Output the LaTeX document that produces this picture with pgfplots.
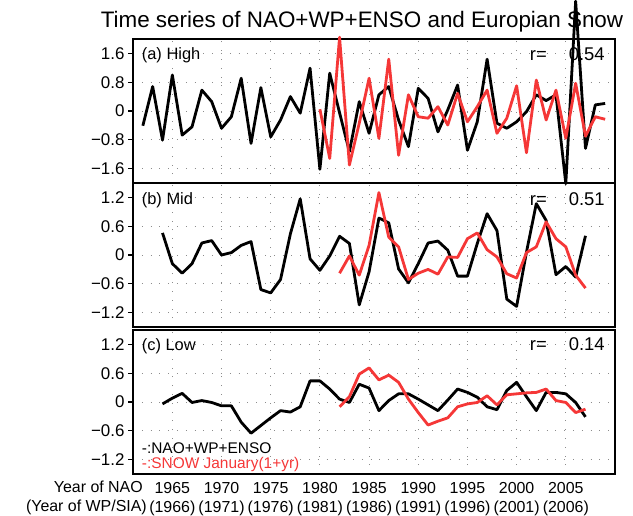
\documentclass[border=0pt]{standalone}
\usepackage{fontspec}
\setmainfont{Liberation Sans}
\usepackage{pgfplots}
\usepackage{pgfplotstable}
\pgfplotsset{compat=1.18}
\definecolor{snowred}{RGB}{245,55,55}

% High-frequency panel
\pgfplotstableread{
year val
1962 -0.41
1963 0.68
1964 -0.81
1965 1.00
1966 -0.67
1967 -0.44
1968 0.58
1969 0.26
1970 -0.48
1971 -0.16
1972 0.91
1973 -0.90
1974 0.65
1975 -0.72
1976 -0.25
1977 0.40
1978 -0.06
1979 1.19
1980 -1.62
1981 1.05
1982 -0.05
1983 -1.13
1984 0.26
1985 -0.62
1986 0.45
1987 0.68
1988 -0.25
1989 -0.99
1990 0.63
1991 0.35
1992 -0.58
1993 0.03
1994 0.72
1995 -1.09
1996 -0.30
1997 1.44
1998 -0.34
1999 -0.48
2000 -0.30
2001 -0.02
2002 0.45
2003 0.29
2004 0.45
2005 -2.02
2006 3.05
2007 -1.04
2008 0.17
2009 0.21
}\naoA
\pgfplotstableread{
year val
1980 0.05
1981 -1.32
1982 2.05
1983 -1.50
1984 -0.34
1985 0.91
1986 -0.76
1987 1.44
1988 -1.23
1989 0.45
1990 -0.16
1991 -0.20
1992 0.12
1993 -0.39
1994 0.49
1995 -0.30
1996 0.12
1997 0.58
1998 -0.62
1999 -0.20
2000 0.70
2001 -1.16
2002 0.86
2003 -0.25
2004 0.58
2005 -0.76
2006 0.77
2007 -0.70
2008 -0.16
2009 -0.23
}\snowA

% Mid-frequency panel
\pgfplotstableread{
year val
1964 0.46
1965 -0.18
1966 -0.38
1967 -0.18
1968 0.25
1969 0.30
1970 0.00
1971 0.05
1972 0.20
1973 0.28
1974 -0.72
1975 -0.79
1976 -0.51
1977 0.44
1978 1.17
1979 -0.08
1980 -0.32
1981 -0.02
1982 0.39
1983 0.24
1984 -1.04
1985 -0.35
1986 0.77
1987 0.67
1988 -0.29
1989 -0.58
1990 -0.18
1991 0.25
1992 0.29
1993 0.10
1994 -0.44
1995 -0.44
1996 0.24
1997 0.86
1998 0.51
1999 -0.92
2000 -1.07
2001 0.06
2002 1.07
2003 0.72
2004 -0.41
2005 -0.24
2006 -0.46
2007 0.40
}\naoB
\pgfplotstableread{
year val
1982 -0.38
1983 -0.02
1984 -0.42
1985 0.20
1986 1.30
1987 0.37
1988 0.17
1989 -0.51
1990 -0.38
1991 -0.30
1992 -0.40
1993 -0.04
1994 -0.05
1995 0.34
1996 0.46
1997 0.11
1998 -0.04
1999 -0.39
2000 -0.48
2001 0.05
2002 0.17
2003 0.69
2004 0.34
2005 0.17
2006 -0.42
2007 -0.69
}\snowB

% Low-frequency panel
\pgfplotstableread{
year val
1964 -0.04
1965 0.08
1966 0.18
1967 -0.01
1968 0.03
1969 -0.01
1970 -0.08
1971 -0.08
1972 -0.42
1973 -0.65
1974 -0.49
1975 -0.33
1976 -0.18
1977 -0.21
1978 -0.10
1979 0.44
1980 0.44
1981 0.27
1982 0.06
1983 -0.01
1984 0.37
1985 0.29
1986 -0.18
1987 0.03
1988 0.17
1989 0.17
1990 0.06
1991 -0.06
1992 -0.18
1993 0.04
1994 0.27
1995 0.20
1996 0.10
1997 -0.10
1998 -0.16
1999 0.24
2000 0.41
2001 0.11
2002 -0.18
2003 0.20
2004 0.20
2005 0.17
2006 -0.01
2007 -0.31
}\naoC
\pgfplotstableread{
year val
1982 -0.10
1983 0.11
1984 0.58
1985 0.71
1986 0.46
1987 0.56
1988 0.41
1989 0.06
1990 -0.22
1991 -0.48
1992 -0.40
1993 -0.33
1994 -0.10
1995 -0.04
1996 -0.01
1997 0.13
1998 -0.06
1999 0.15
2000 0.17
2001 0.19
2002 0.20
2003 0.27
2004 0.03
2005 -0.01
2006 -0.22
2007 -0.15
}\snowC

\pgfplotsset{
  panel/.style={
    width=482bp, height=144bp, scale only axis,
    xmin=1961, xmax=2010,
    xtick={1965,1970,...,2005},
    xtick style={draw=none},
    ytick pos=left,
    tick align=outside,
    major tick length=5bp,
    ytick style={line width=1.2bp, black},
    grid=major,
    grid style={dash pattern=on 0.8bp off 8bp, black!45, line width=0.8bp},
    axis line style={line width=1.8bp},
    tick label style={font=\fontsize{16}{19}\selectfont},
    yticklabel style={font=\fontsize{17}{20}\selectfont},
  },
  nao/.style={black, line width=2.8bp, line join=round},
  snow/.style={snowred, line width=2.8bp, line join=round},
}

\begin{document}
\begin{tikzpicture}
% (a) High
\begin{axis}[panel, at={(0,291bp)}, clip=false,
  ymin=-2, ymax=2,
  ytick={-1.6,-0.8,0,0.8,1.6},
  yticklabels={−1.6,−0.8,0,0.8,1.6},
  xticklabels={}]
\addplot[nao] table[x=year,y=val] {\naoA};
\addplot[snow] table[x=year,y=val] {\snowA};
\node[anchor=base west, inner sep=0, font=\fontsize{16.5}{19}\selectfont] at (rel axis cs:0.018,0.859) {(a) High};
\node[anchor=base east, inner sep=0, font=\fontsize{18.5}{22}\selectfont] at (rel axis cs:0.979,0.854) {r=\hspace{22bp}0.54};
\end{axis}
% (b) Mid
\begin{axis}[panel, at={(0,147bp)},
  ymin=-1.5, ymax=1.5,
  ytick={-1.2,-0.6,0,0.6,1.2},
  yticklabels={−1.2,−0.6,0,0.6,1.2},
  xticklabels={}]
\addplot[nao] table[x=year,y=val] {\naoB};
\addplot[snow] table[x=year,y=val] {\snowB};
\node[anchor=base west, inner sep=0, font=\fontsize{16.5}{19}\selectfont] at (rel axis cs:0.018,0.854) {(b) Mid};
\node[anchor=base east, inner sep=0, font=\fontsize{18.5}{22}\selectfont] at (rel axis cs:0.979,0.847) {r=\hspace{22bp}0.51};
\end{axis}
% (c) Low
\begin{axis}[panel, at={(0,0)},
  ymin=-1.5, ymax=1.5,
  ytick={-1.2,-0.6,0,0.6,1.2},
  yticklabels={−1.2,−0.6,0,0.6,1.2},
  xticklabels={1965\\(1966),1970\\(1971),1975\\(1976),1980\\(1981),1985\\(1986),1990\\(1991),1995\\(1996),2000\\(2001),2005\\(2006)},
  xticklabel style={align=center}]
\addplot[nao] table[x=year,y=val] {\naoC};
\addplot[snow] table[x=year,y=val] {\snowC};
\node[anchor=base west, inner sep=0, font=\fontsize{16.5}{19}\selectfont] at (rel axis cs:0.018,0.861) {(c) Low};
\node[anchor=base east, inner sep=0, font=\fontsize{18.5}{22}\selectfont] at (rel axis cs:0.979,0.856) {r=\hspace{22bp}0.14};
\node[anchor=base west, inner sep=0, font=\fontsize{15.5}{18}\selectfont, black] at (rel axis cs:0.018,0.139) {-:NAO+WP+ENSO};
\node[anchor=base west, inner sep=0, font=\fontsize{15.5}{18}\selectfont, snowred] at (rel axis cs:0.018,0.035) {-:SNOW January(1+yr)};
\end{axis}
% title and row captions
\node[anchor=base, font=\fontsize{22.5}{27}\selectfont] at (229bp,446bp) {Time series of NAO+WP+ENSO and Europian Snow};
\node[anchor=base east, inner sep=0, font=\fontsize{16}{19}\selectfont] at (10bp,-18bp) {Year of NAO};
\node[anchor=base east, inner sep=0, font=\fontsize{16}{19}\selectfont] at (14bp,-37bp) {(Year of WP/SIA)};
\pgfresetboundingbox
\useasboundingbox (-133bp,-42bp) rectangle (500bp,474bp);
\end{tikzpicture}
\end{document}
